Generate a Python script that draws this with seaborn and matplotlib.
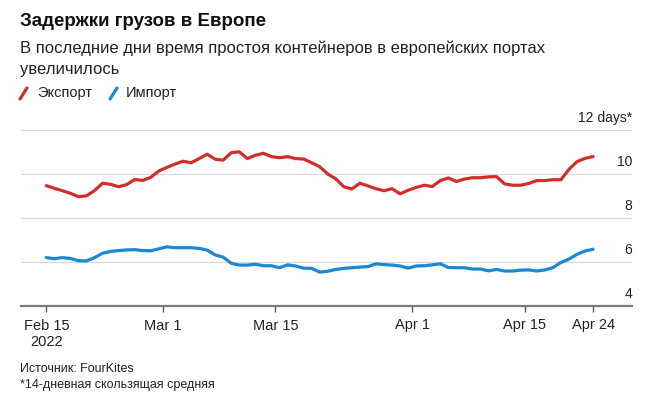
import matplotlib
matplotlib.use("Agg")
import matplotlib.pyplot as plt
import matplotlib.transforms as mtransforms
from matplotlib.lines import Line2D
import numpy as np
import pandas as pd
import seaborn as sns

# ---------------- data ----------------
days = list(range(69))  # Feb 15 .. Apr 24, 2022
export_vals = [9.47, 9.35, 9.24, 9.12, 8.97, 9.01, 9.25, 9.58, 9.53, 9.42,
               9.52, 9.75, 9.71, 9.85, 10.14, 10.30, 10.45, 10.58, 10.51, 10.70,
               10.90, 10.67, 10.63, 10.97, 11.01, 10.70, 10.85, 10.94, 10.79, 10.74,
               10.79, 10.70, 10.68, 10.51, 10.33, 10.00, 9.78, 9.42, 9.32, 9.58,
               9.46, 9.33, 9.24, 9.33, 9.10, 9.26, 9.39, 9.49, 9.43, 9.70,
               9.82, 9.66, 9.77, 9.83, 9.83, 9.87, 9.88, 9.55, 9.49, 9.49,
               9.57, 9.70, 9.70, 9.74, 9.74, 10.21, 10.56, 10.71, 10.79]
import_vals = [6.20, 6.15, 6.20, 6.16, 6.06, 6.05, 6.20, 6.40, 6.48, 6.52,
               6.55, 6.56, 6.52, 6.51, 6.60, 6.69, 6.65, 6.65, 6.65, 6.62,
               6.54, 6.32, 6.22, 5.94, 5.86, 5.86, 5.90, 5.83, 5.83, 5.74,
               5.87, 5.82, 5.72, 5.71, 5.54, 5.58, 5.66, 5.71, 5.74, 5.77,
               5.79, 5.92, 5.88, 5.86, 5.82, 5.72, 5.82, 5.83, 5.87, 5.92,
               5.75, 5.74, 5.74, 5.68, 5.68, 5.60, 5.66, 5.59, 5.59, 5.63,
               5.64, 5.59, 5.64, 5.74, 5.98, 6.13, 6.35, 6.50, 6.58]
series_names = ["Экспорт", "Импорт"]
tick_labels = ["Feb 15\n2022", "Mar 1", "Mar 15", "Apr 1", "Apr 15", "Apr 24"]
tick_days = [0, 14, 28, 45, 59, 68]
y_ticks = [4, 6, 8, 10, 12]
y_tick_labels = ["4", "6", "8", "10", "12 days*"]

title = "Задержки грузов в Европе"
subtitle = "В последние дни время простоя контейнеров в европейских портах\nувеличилось"
source = "Источник: FourKites"
footnote = "*14-дневная скользящая средняя"

RED = "#d12e2b"
BLUE = "#1a88d3"
TXT = "#222222"

# ---------------- style ----------------
sns.set_theme(style="white")
plt.rcParams['font.family'] = ['Liberation Sans', 'DejaVu Sans']

W, H = 645, 396
fig = plt.figure(figsize=(W / 100, H / 100), dpi=100)
fig.patch.set_facecolor("white")
ax = fig.add_axes([21 / W, 1 - 306 / H, (632 - 21) / W, (306 - 130) / H])

df = pd.DataFrame({
    "day": days + days,
    "value": export_vals + import_vals,
    "series": [series_names[0]] * len(days) + [series_names[1]] * len(days),
})
sns.lineplot(data=df, x="day", y="value", hue="series", hue_order=series_names,
             palette=[RED, BLUE], linewidth=2.3, legend=False, ax=ax,
             solid_capstyle="round", solid_joinstyle="round", zorder=3)

ax.set_xlim(-3.15, 72.84)
ax.set_ylim(4, 12)
ax.set_xlabel("")
ax.set_ylabel("")

# grid lines
for v in y_ticks[1:]:
    ax.axhline(v, color="#d9d9d9", lw=0.9, zorder=1)

for s in ["top", "left", "right"]:
    ax.spines[s].set_visible(False)
ax.spines["bottom"].set_color("#7a7a7a")
ax.spines["bottom"].set_linewidth(1.6)

tick_pos = [d if i in (0, len(tick_days) - 1) else d + 0.5 for i, d in enumerate(tick_days)]
ax.set_xticks(tick_pos)
ax.set_xticklabels(tick_labels, fontsize=10.5, color=TXT, linespacing=1.2)
ax.tick_params(axis="x", direction="out", length=4, width=1, color="#555555", pad=5,
               bottom=True)
ax.set_yticks([])

# y labels above grid lines on right
trans = mtransforms.blended_transform_factory(ax.transAxes, ax.transData)
for v, lab in zip(y_ticks, y_tick_labels):
    ax.annotate(lab, xy=(1.0, v), xycoords=trans, xytext=(0, 6),
                textcoords="offset points", ha="right", va="baseline",
                fontsize=10, color=TXT)

# titles
fig.text(20 / W, 1 - 21 / H, title, fontsize=13.5, fontweight="bold", color="#111111",
         va="center", ha="left")
fig.text(20 / W, 1 - 40 / H, subtitle, fontsize=12, color=TXT, va="top", ha="left",
         linespacing=1.55)

# legend
ly = 1 - 93 / H
for x0, col, name, tx in [(20, RED, series_names[0], 37), (110, BLUE, series_names[1], 126)]:
    fig.add_artist(Line2D([x0 / W, (x0 + 7) / W], [1 - 99 / H, 1 - 88 / H],
                          color=col, lw=2.3, solid_capstyle="round",
                          transform=fig.transFigure))
    fig.text(tx / W, ly, name, fontsize=10.5, color=TXT, va="center", ha="left")

# footer
fig.text(20 / W, 1 - 369 / H, source, fontsize=9, color=TXT, va="center", ha="left")
fig.text(20 / W, 1 - 385 / H, footnote, fontsize=9, color=TXT, va="center", ha="left")

fig.savefig("out.png", dpi=100, facecolor="white")
